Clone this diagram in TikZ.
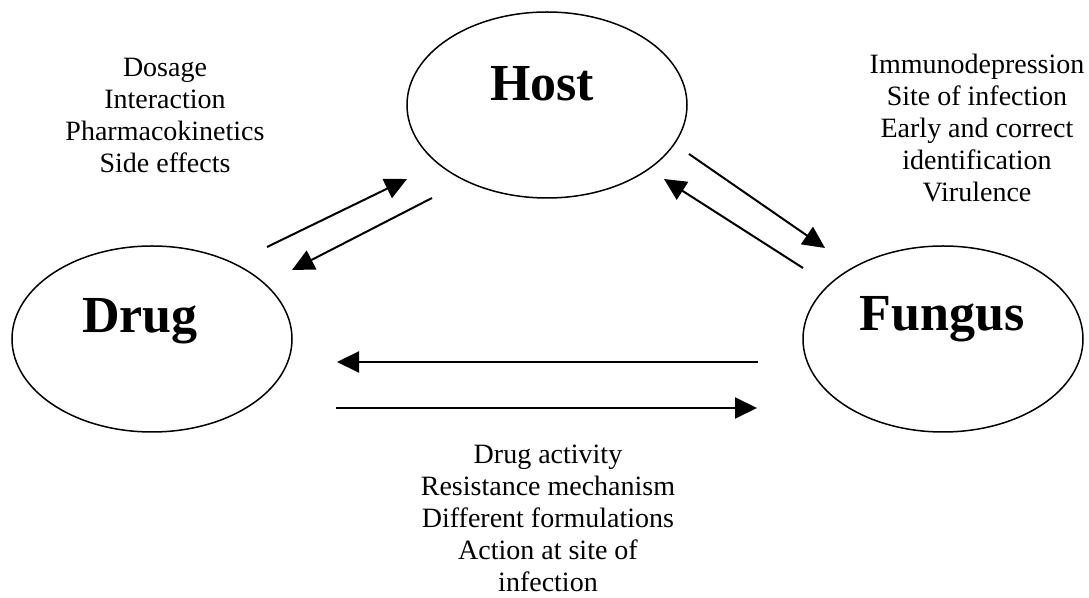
\documentclass[tikz,border=0pt]{standalone}
\usepackage{fontspec}
\setmainfont{Liberation Serif}
\usepackage{tikz}
\usetikzlibrary{arrows.meta,shapes.geometric}

\begin{document}
\begin{tikzpicture}[x=0.5pt,y=-0.5pt,
  agent/.style={draw,ellipse,line width=0.75pt,minimum width=140pt,minimum height=93pt,inner sep=0pt},
  agentname/.style={font=\fontsize{26}{30}\selectfont\bfseries,anchor=base,inner sep=0pt},
  factors/.style={font=\fontsize{14}{16}\selectfont,align=center,anchor=base,inner sep=0pt},
  flow/.style={-{Triangle[length=11pt,width=10.5pt]},line width=1pt}]
  \useasboundingbox (0,0) rectangle (1089,598);
  \node[agent] (host) at (547,105) {};
  \node[agent] (drug) at (152,339) {};
  \node[agent] (fungus) at (943,339) {};
  \node[agentname] (hostname) at (542,101) {Host};
  \node[agentname] (drugname) at (140,333) {Drug};
  \node[agentname] (fungusname) at (942,331) {Fungus};
  % base = last line
  \node[factors] (drugfactors) at (165,173) {Dosage\\Interaction\\Pharmacokinetics\\Side effects};
  \node[factors] (fungusfactors) at (977,202) {Immunodepression\\Site of infection\\Early and correct\\identification\\Virulence};
  \node[factors] (pairfactors) at (548,592) {Drug activity\\Resistance mechanism\\Different formulations\\Action at site of\\infection};
  % arrow ends
  \coordinate (dh0) at (267,247);
  \coordinate (dh1) at (407,179);
  \coordinate (hd0) at (432,198);
  \coordinate (hd1) at (292,270);
  \coordinate (hf0) at (689,154);
  \coordinate (hf1) at (825,248);
  \coordinate (fh0) at (803,268);
  \coordinate (fh1) at (664,179);
  \coordinate (fd0) at (758,362);
  \coordinate (fd1) at (337,362);
  \coordinate (df0) at (336,408);
  \coordinate (df1) at (757,408);
  \foreach \a in {dh,hd,hf,fh,fd,df} {\draw[flow] (\a0) -- (\a1);}
\end{tikzpicture}
\end{document}
